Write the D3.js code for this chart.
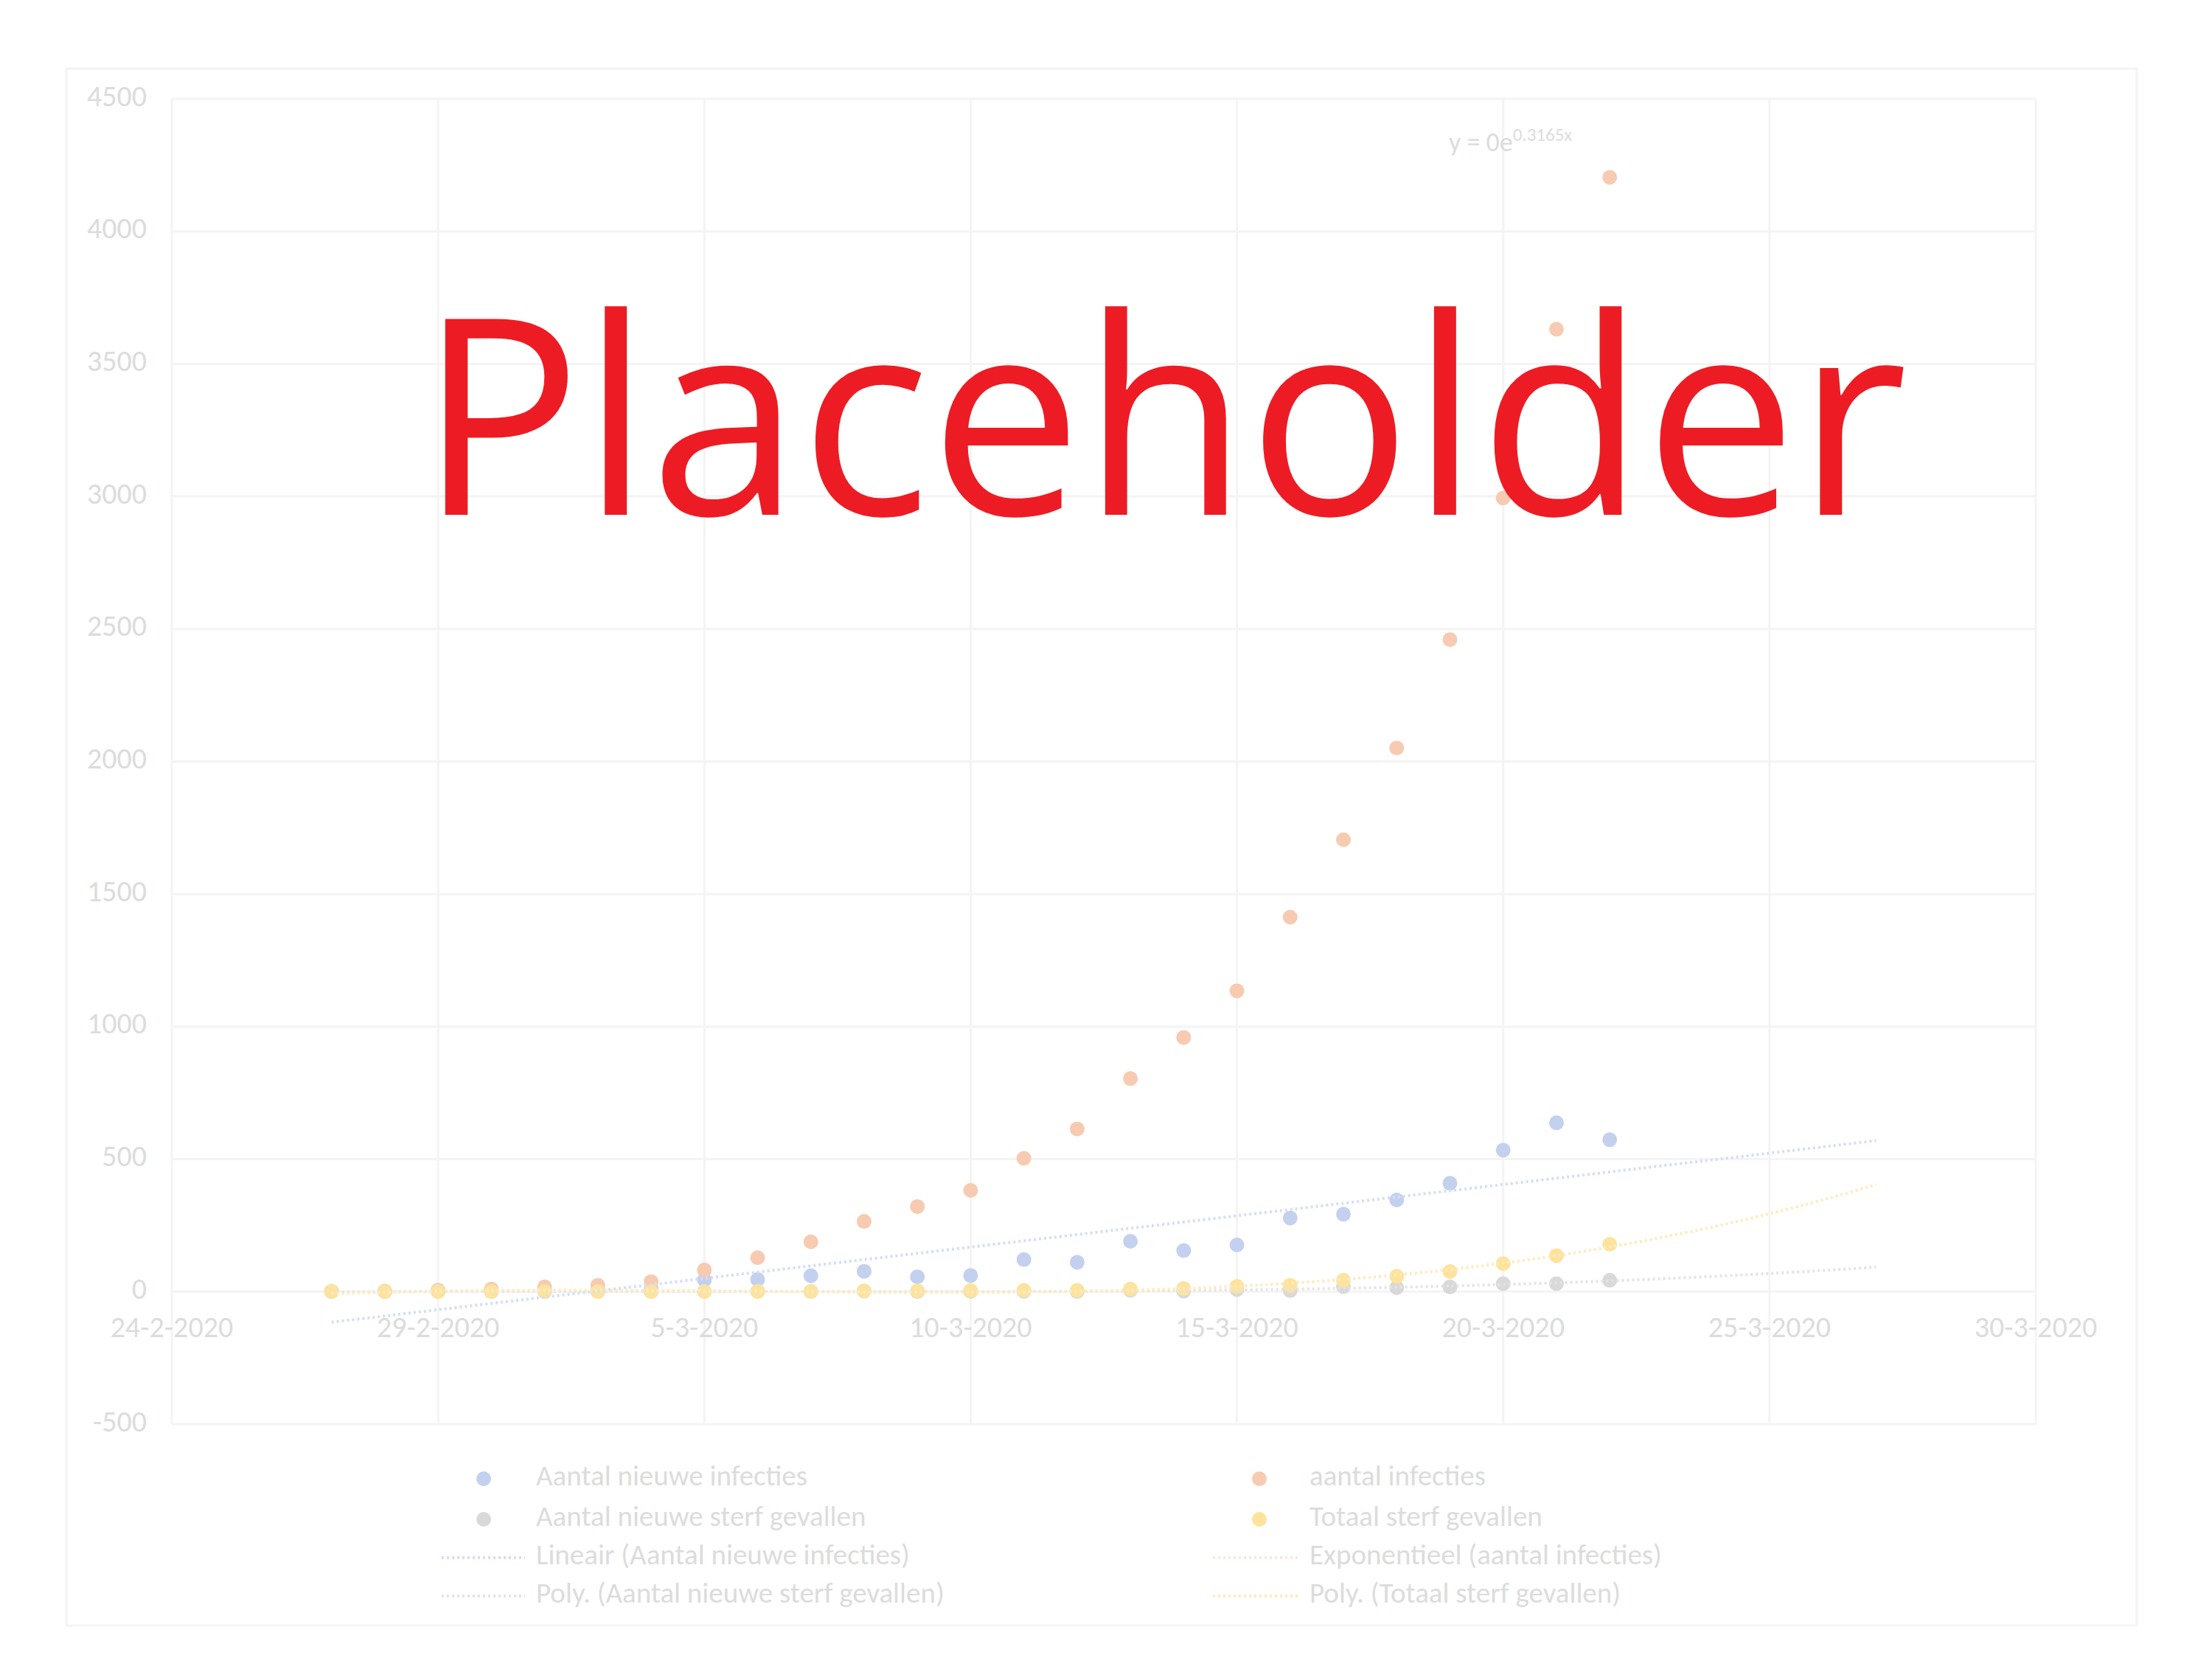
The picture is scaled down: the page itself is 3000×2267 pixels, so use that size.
<!DOCTYPE html>
<html><head><meta charset="utf-8">
<script src="https://cdn.jsdelivr.net/npm/d3@7"></script>
<style>html,body{margin:0;padding:0;background:#fff;} svg{display:block;}</style>
</head><body>
<svg id="chart" width="3000" height="2267"></svg>
<script>
// ---- data ----
const dates = ["27-2-2020","28-2-2020","29-2-2020","1-3-2020","2-3-2020","3-3-2020","4-3-2020","5-3-2020","6-3-2020","7-3-2020","8-3-2020","9-3-2020","10-3-2020","11-3-2020","12-3-2020","13-3-2020","14-3-2020","15-3-2020","16-3-2020","17-3-2020","18-3-2020","19-3-2020","20-3-2020","21-3-2020","22-3-2020"];
const newInfections = [1,1,4,4,8,6,14,44,46,60,77,56,61,121,111,190,155,176,278,292,346,409,534,637,573];
const totalInfections = [1,2,6,10,18,24,38,82,128,188,265,321,382,503,614,804,959,1135,1413,1705,2051,2460,2994,3631,4204];
const newDeaths = [0,0,0,0,0,0,0,0,1,0,2,0,1,1,0,5,2,8,4,19,15,18,30,30,43];
const totalDeaths = [0,0,0,0,0,0,0,0,1,1,3,3,4,5,5,10,12,20,24,43,58,76,106,136,179];
const seriesNames = ["Aantal nieuwe infecties","aantal infecties","Aantal nieuwe sterf gevallen","Totaal sterf gevallen"];
const trendNames = ["Lineair (Aantal nieuwe infecties)","Exponentieel (aantal infecties)","Poly. (Aantal nieuwe sterf gevallen)","Poly. (Totaal sterf gevallen)"];
const xDomain = ["24-2-2020","30-3-2020"];
const xTickLabels = ["24-2-2020","29-2-2020","5-3-2020","10-3-2020","15-3-2020","20-3-2020","25-3-2020","30-3-2020"];
const yTicks = [-500,0,500,1000,1500,2000,2500,3000,3500,4000,4500];
const forecastDays = 5;
const polyOrder = 3;
const placeholderText = "Placeholder";

// ---- styles ----
const colors = {blue:"#c3d1ef", orange:"#f7cbb1", gray:"#d9d9d9", yellow:"#fde39c"};
const trendColors = {blue:"#d4def4", orange:"#fbe8dc", gray:"#e4e4e4", yellow:"#feebbd"};
const textColor = "#dcdcdc";
const gridColor = "#f4f4f4";
const font = "Carlito, Lato, 'Open Sans', sans-serif";

const W=3000,H=2267;
const svg=d3.select("#chart");
svg.append("rect").attr("width",W).attr("height",H).attr("fill","#fff");
svg.append("rect").attr("x",90).attr("y",93).attr("width",2808).attr("height",2111)
  .attr("fill","none").attr("stroke","#f4f4f4").attr("stroke-width",3);

const plot={left:233,right:2761,top:134,bottom:1931};
const parse=d3.timeParse("%d-%m-%Y");
const x=d3.scaleTime().domain(xDomain.map(parse)).range([plot.left,plot.right]);
const y=d3.scaleLinear().domain([d3.min(yTicks),d3.max(yTicks)]).range([plot.bottom,plot.top]);

// gridlines
const g=svg.append("g");
g.selectAll("line.h").data(yTicks).join("line")
  .attr("x1",plot.left).attr("x2",plot.right).attr("y1",d=>y(d)).attr("y2",d=>y(d))
  .attr("stroke",gridColor).attr("stroke-width",3);
g.selectAll("line.v").data(xTickLabels).join("line")
  .attr("x1",d=>x(parse(d))).attr("x2",d=>x(parse(d))).attr("y1",plot.top).attr("y2",plot.bottom)
  .attr("stroke",gridColor).attr("stroke-width",3);

// y labels
svg.append("g").selectAll("text").data(yTicks).join("text")
  .attr("x",199).attr("y",d=>y(d)).attr("text-anchor","end").attr("dominant-baseline","middle")
  .attr("font-family",font).attr("font-size",40).attr("fill",textColor).text(d=>d);
// x labels
svg.append("g").selectAll("text").data(xTickLabels).join("text")
  .attr("x",d=>x(parse(d))).attr("y",y(0)+52).attr("text-anchor","middle").attr("dominant-baseline","middle")
  .attr("font-family",font).attr("font-size",40).attr("fill",textColor).text(d=>d);

// ---- fits ----
const idx = dates.map((d,i)=>i+1);
function polyfit(xs,ys,order){
  const n=order+1; const A=[];
  for(let r=0;r<n;r++){A.push([]);for(let c=0;c<n;c++)A[r].push(d3.sum(xs,v=>Math.pow(v,r+c)));A[r].push(d3.sum(xs,(v,i)=>Math.pow(v,r)*ys[i]));}
  for(let i=0;i<n;i++){let p=i;for(let k=i+1;k<n;k++)if(Math.abs(A[k][i])>Math.abs(A[p][i]))p=k;[A[i],A[p]]=[A[p],A[i]];
    for(let k=i+1;k<n;k++){const f=A[k][i]/A[i][i];for(let c=i;c<=n;c++)A[k][c]-=f*A[i][c];}}
  const co=new Array(n).fill(0);
  for(let i=n-1;i>=0;i--){let s=A[i][n];for(let c=i+1;c<n;c++)s-=A[i][c]*co[c];co[i]=s/A[i][i];}
  return t=>co.reduce((a,c,k)=>a+c*Math.pow(t,k),0);
}
const linFit = polyfit(idx,newInfections,1);
const lnFit = polyfit(idx,totalInfections.map(Math.log),1);
const expB = lnFit(1)-lnFit(0);
const polyGray = polyfit(idx,newDeaths,polyOrder);
const polyYellow = polyfit(idx,totalDeaths,polyOrder);
const day0 = parse(dates[0]);
const tToDate = t=>new Date(day0.getTime()+(t-1)*86400000);
const ts = d3.range(1,dates.length+forecastDays+0.0001,0.05);

svg.append("clipPath").attr("id","clip").append("rect")
  .attr("x",plot.left).attr("y",plot.top).attr("width",plot.right-plot.left).attr("height",plot.bottom-plot.top);

// markers
const marks=svg.append("g");
const seriesList=[[newInfections,colors.blue],[totalInfections,colors.orange],[newDeaths,colors.gray],[totalDeaths,colors.yellow]];
seriesList.forEach(([vals,col])=>{
  marks.append("g").selectAll("circle").data(vals).join("circle")
    .attr("cx",(d,i)=>x(parse(dates[i]))).attr("cy",d=>y(d)).attr("r",10).attr("fill",col);
});

// trendlines (the exponential trendline is not visible in the plot of the original)
const trends=svg.append("g").attr("clip-path","url(#clip)");
const line=fn=>d3.line().x(t=>x(tToDate(t))).y(t=>y(fn(t)));
[[linFit,trendColors.blue],[polyGray,trendColors.gray],[polyYellow,trendColors.yellow]].forEach(([fn,col])=>{
  trends.append("path").attr("d",line(fn)(ts)).attr("fill","none").attr("stroke",col)
    .attr("stroke-width",4).attr("stroke-dasharray","3,4");
});

// equation label
const eq=svg.append("text").attr("x",1965).attr("y",205).attr("font-family",font).attr("font-size",36).attr("fill",textColor);
eq.append("tspan").text("y = 0e");
eq.append("tspan").attr("dy",-14).attr("font-size",25).text(expB.toFixed(4)+"x");

// legend
const leg=svg.append("g").attr("font-family",font).attr("font-size",39).attr("fill",textColor);
const legCols=[{mx:656,lx1:599,lx2:712,tx:727},{mx:1708,lx1:1645,lx2:1760,tx:1776}];
const legRows=[2005,2060,2112,2164];
const legendItems=[
  {name:seriesNames[0],type:"dot",col:colors.blue,c:0,r:0},
  {name:seriesNames[1],type:"dot",col:colors.orange,c:1,r:0},
  {name:seriesNames[2],type:"dot",col:colors.gray,c:0,r:1},
  {name:seriesNames[3],type:"dot",col:colors.yellow,c:1,r:1},
  {name:trendNames[0],type:"line",col:trendColors.blue,c:0,r:2},
  {name:trendNames[1],type:"line",col:trendColors.orange,c:1,r:2},
  {name:trendNames[2],type:"line",col:trendColors.gray,c:0,r:3},
  {name:trendNames[3],type:"line",col:trendColors.yellow,c:1,r:3}];
legendItems.forEach(it=>{
  const C=legCols[it.c],yy=legRows[it.r];
  if(it.type==="dot") leg.append("circle").attr("cx",C.mx).attr("cy",yy).attr("r",10).attr("fill",it.col);
  else leg.append("line").attr("x1",C.lx1).attr("x2",C.lx2).attr("y1",yy).attr("y2",yy).attr("stroke",it.col).attr("stroke-width",4).attr("stroke-dasharray","3,4");
  leg.append("text").attr("x",C.tx).attr("y",yy).attr("dominant-baseline","middle").text(it.name);
});

// placeholder overlay
svg.append("text").attr("x",568).attr("y",698).attr("font-family","'Open Sans', sans-serif")
  .attr("font-size",372).attr("fill","#ed1c24").attr("textLength",2019).attr("lengthAdjust","spacingAndGlyphs")
  .text(placeholderText);
</script>
</body></html>
